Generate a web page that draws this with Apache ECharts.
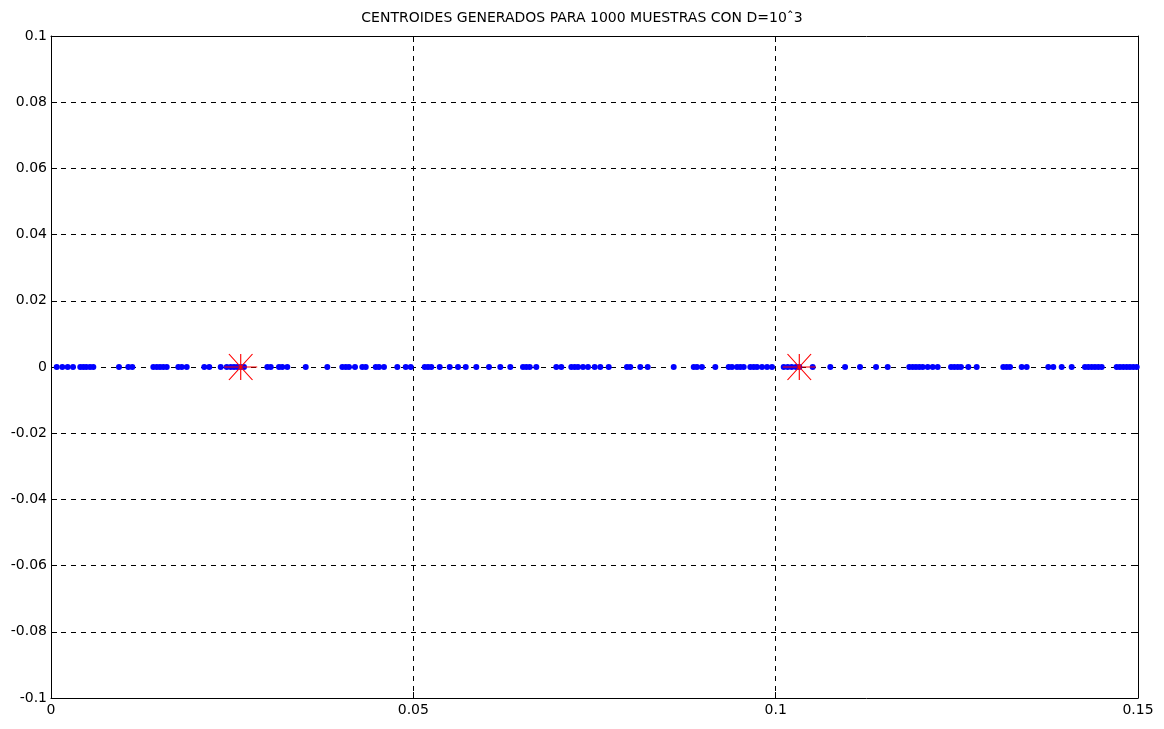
<!DOCTYPE html>
<html>
<head>
<meta charset="utf-8">
<script src="https://cdn.jsdelivr.net/npm/echarts@6/dist/echarts.min.js"></script>
<style>
  html, body { margin: 0; padding: 0; background: #fff; }
  #chart { width: 1164px; height: 729px; }
</style>
</head>
<body>
<div id="chart"></div>
<script>
// muestras cuantizadas (todas sobre y = 0)
const samplesX = [
  0.00079, 0.00156, 0.00230, 0.00304, 0.00404, 0.00446, 0.00487, 0.00538, 0.00584,
  0.00938, 0.01067, 0.01122, 0.01412, 0.01459, 0.01504, 0.01550, 0.01597,
  0.01757, 0.01804, 0.01873, 0.02115, 0.02184, 0.02342, 0.02425,
  0.02480, 0.02525, 0.02571, 0.02618, 0.02663, 0.02985, 0.03032, 0.03146, 0.03192,
  0.03261, 0.03515, 0.03813, 0.04020, 0.04067, 0.04112, 0.04195, 0.04296, 0.04343,
  0.04481, 0.04526, 0.04595, 0.04779, 0.04895, 0.04964,
  0.05157, 0.05202, 0.05248, 0.05364, 0.05502, 0.05616, 0.05723, 0.05869, 0.06044,
  0.06200, 0.06338, 0.06513, 0.06559, 0.06606, 0.06697, 0.06973, 0.07042, 0.07180,
  0.07227, 0.07272, 0.07341, 0.07410, 0.07503,
  0.07580, 0.07696, 0.07948, 0.07994, 0.08132, 0.08234, 0.08593, 0.08869, 0.08914,
  0.08983, 0.09167, 0.09352, 0.09397, 0.09466, 0.09512, 0.09559, 0.09650, 0.09697,
  0.09742, 0.09811, 0.09881, 0.09949,
  0.10111, 0.10166, 0.10221, 0.10281, 0.10326, 0.10511, 0.10754, 0.10958, 0.11164,
  0.11385, 0.11546, 0.11844, 0.11891, 0.11936, 0.11982, 0.12029, 0.12098, 0.12167,
  0.12236, 0.12420, 0.12465, 0.12512, 0.12557,
  0.12658, 0.12774, 0.13141, 0.13188, 0.13234, 0.13395, 0.13464, 0.13762, 0.13831,
  0.13947, 0.14085, 0.14268, 0.14314, 0.14361, 0.14406, 0.14452, 0.14499, 0.14706,
  0.14751, 0.14797, 0.14844, 0.14889, 0.14935, 0.14982
];
const centroidsX = [0.02618, 0.10326];

const titleText = 'CENTROIDES GENERADOS PARA 1000 MUESTRAS CON D=10ˆ3';
const xTicks = { min: 0, max: 0.15, step: 0.05 };
const yTicks = { min: -0.1, max: 0.1, step: 0.02 };

const fmt = v => String(+v.toFixed(3));
const FONT = '"DejaVu Sans", Verdana, sans-serif';
const grid = { left: 51, right: 26, top: 36, bottom: 31 };

const tick = { show: true, inside: true, length: 6, lineStyle: { color: '#000', width: 1 } };
const dashed = { show: true, lineStyle: { color: '#000', width: 1, type: [5, 5] } };
const axLine = { show: true, onZero: false, lineStyle: { color: '#000', width: 1 } };

const chart = echarts.init(document.getElementById('chart'), null, { renderer: 'canvas' });
chart.setOption({
  backgroundColor: '#fff',
  animation: false,
  title: {
    text: titleText,
    left: 'center',
    top: 6,
    textStyle: { fontFamily: FONT, fontSize: 14, fontWeight: 'normal', color: '#000' }
  },
  grid: grid,
  xAxis: [
    {
      type: 'value', min: xTicks.min, max: xTicks.max, interval: xTicks.step,
      axisLine: axLine, axisTick: tick, splitLine: dashed,
      axisLabel: { color: '#000', fontFamily: FONT, fontSize: 14, margin: 5, formatter: fmt }
    },
    {
      type: 'value', position: 'top', min: xTicks.min, max: xTicks.max, interval: xTicks.step,
      axisLine: axLine, axisTick: tick, splitLine: { show: false }, axisLabel: { show: false }
    }
  ],
  yAxis: [
    {
      type: 'value', min: yTicks.min, max: yTicks.max, interval: yTicks.step,
      axisLine: axLine, axisTick: tick, splitLine: dashed,
      axisLabel: { color: '#000', fontFamily: FONT, fontSize: 14, margin: 4, formatter: fmt }
    },
    {
      type: 'value', position: 'right', min: yTicks.min, max: yTicks.max, interval: yTicks.step,
      axisLine: axLine, axisTick: tick, splitLine: { show: false }, axisLabel: { show: false }
    }
  ],
  series: [
    {
      type: 'scatter',
      data: samplesX.map(x => [x, 0]),
      symbol: 'circle',
      symbolSize: 6,
      itemStyle: { color: '#0000ff', opacity: 1 },
      z: 3
    },
    {
      type: 'scatter',
      data: centroidsX.map(x => [x, 0]),
      symbol: 'path://M0,-10L0,10M-14,0L14,0M-10,-10L10,10M-10,10L10,-10',
      symbolSize: [33, 26],
      itemStyle: { color: 'none', borderColor: '#ff0000', borderWidth: 1, opacity: 1 },
      z: 4
    }
  ]
});
</script>
</body>
</html>
